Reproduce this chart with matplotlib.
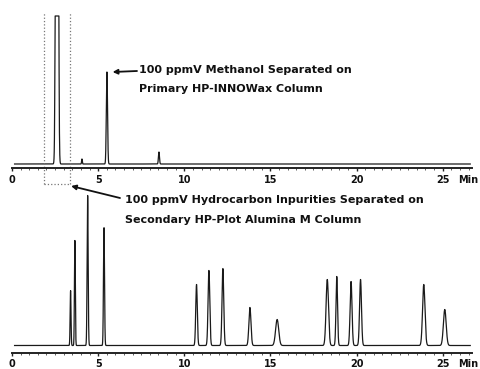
import numpy as np
import matplotlib
matplotlib.use("Agg")
import matplotlib.pyplot as plt

plt.rcParams['font.family'] = ['DejaVu Sans']

# Primary column (HP-INNOWax): retention time (min), peak height, peak width (sigma, min)
primary_rt = [2.61, 4.06, 5.51, 8.53]
primary_height = [2000, 5, 92, 12]
primary_sigma = [0.05, 0.02, 0.035, 0.03]
primary_saturation = 148

# Secondary column (HP-Plot Alumina M): hydrocarbon impurities
secondary_rt = [3.40, 3.65, 4.39, 5.34, 10.71, 11.43, 12.24, 13.81, 15.39,
                18.30, 18.85, 19.68, 20.23, 23.90, 25.12]
secondary_height = [55, 105, 150, 118, 61, 75, 77, 38, 26,
                    66, 69, 64, 66, 61, 36]
secondary_sigma = [0.025, 0.025, 0.03, 0.03, 0.045, 0.05, 0.05, 0.06, 0.09,
                   0.07, 0.045, 0.055, 0.055, 0.07, 0.08]

# Heart-cut window transferred from the primary to the secondary column
cut_window = (1.85, 3.35)

major_ticks = [0, 5, 10, 15, 20, 25]
tick_labels = ["0", "5", "10", "15", "20", "25"]

t = np.arange(0.15, 26.6, 0.004)


def chromatogram(rts, heights, sigmas):
    y = np.zeros_like(t)
    for rt, h, s in zip(rts, heights, sigmas):
        y += h * np.exp(-0.5 * ((t - rt) / s) ** 2)
    return y


W, H = 480, 369
fig = plt.figure(figsize=(W / 100, H / 100), dpi=100)
x_left, x_right = 12, 472
xmax = 26.7

label_font = dict(fontsize=7, fontweight='bold', color='#111111')


def style_axis(ax, ymin, ymax, height_px):
    ax.set_xlim(0, xmax)
    ax.set_ylim(ymin, ymax)
    for s in ('top', 'left', 'right'):
        ax.spines[s].set_visible(False)
    ax.spines['bottom'].set_linewidth(1.4)
    ax.spines['bottom'].set_color('#222222')
    ax.set_yticks([])
    ax.set_xticks(major_ticks)
    ax.set_xticklabels(tick_labels, **label_font)
    ax.set_xticks(np.arange(0, 26.6, 0.5), minor=True)
    ax.tick_params(axis='x', which='major', length=2, width=1, pad=3, color='#222222')
    ax.tick_params(axis='x', which='minor', length=1.3, width=0.6, color='#444444')
    ax.text(26.45, -6.9 / height_px, "Min", transform=ax.get_xaxis_transform(),
            ha='center', va='top', **label_font)
    ax.patch.set_alpha(0)


# Upper trace: primary column
top_spine_px = 168
ax1 = fig.add_axes([x_left / W, (H - top_spine_px) / H, (x_right - x_left) / W, top_spine_px / H])
style_axis(ax1, -4, 164, top_spine_px)
y1 = np.minimum(chromatogram(primary_rt, primary_height, primary_sigma), primary_saturation)
ax1.plot(t, y1, color='#1a1a1a', lw=0.9)

# Dotted cut window box
box_top, box_bottom = 151, -20
for xv in cut_window:
    ax1.plot([xv, xv], [box_bottom, box_top], ls=':', color='#777777', lw=0.9, clip_on=False)
ax1.plot(list(cut_window), [box_bottom, box_bottom], ls=':', color='#777777', lw=0.9, clip_on=False)

# Lower trace: secondary column
bot_spine_px = 352.5
bot_h = 160
ax2 = fig.add_axes([x_left / W, (H - bot_spine_px) / H, (x_right - x_left) / W, bot_h / H])
style_axis(ax2, -7, 153, bot_h)
y2 = chromatogram(secondary_rt, secondary_height, secondary_sigma)
ax2.plot(t, y2, color='#1a1a1a', lw=0.9)

text_font = dict(fontsize=8, fontweight='bold', color='#111111', va='center', ha='left')

# Methanol annotation
ax1.annotate("", xy=(primary_rt[2] + 0.33, primary_height[2]), xycoords='data',
             xytext=(137, H - 71), textcoords='figure pixels', annotation_clip=False,
             arrowprops=dict(arrowstyle='-|>', color='#111111', lw=1.3,
                             mutation_scale=7, shrinkA=0, shrinkB=0))
fig.text(139 / W, 1 - 70 / H, "100 ppmV Methanol Separated on", **text_font)
fig.text(139 / W, 1 - 89 / H, "Primary HP-INNOWax Column", **text_font)

# Hydrocarbon annotation
ax1.annotate("", xy=(cut_window[1] + 0.08, box_bottom - 2), xycoords='data',
             xytext=(120, H - 198), textcoords='figure pixels', annotation_clip=False,
             arrowprops=dict(arrowstyle='-|>', color='#111111', lw=1.3,
                             mutation_scale=7, shrinkA=0, shrinkB=0))
fig.text(125 / W, 1 - 200 / H, "100 ppmV Hydrocarbon Inpurities Separated on", **text_font)
fig.text(125 / W, 1 - 220 / H, "Secondary HP-Plot Alumina M Column", **text_font)

fig.savefig("out.png", dpi=100, facecolor='white')
